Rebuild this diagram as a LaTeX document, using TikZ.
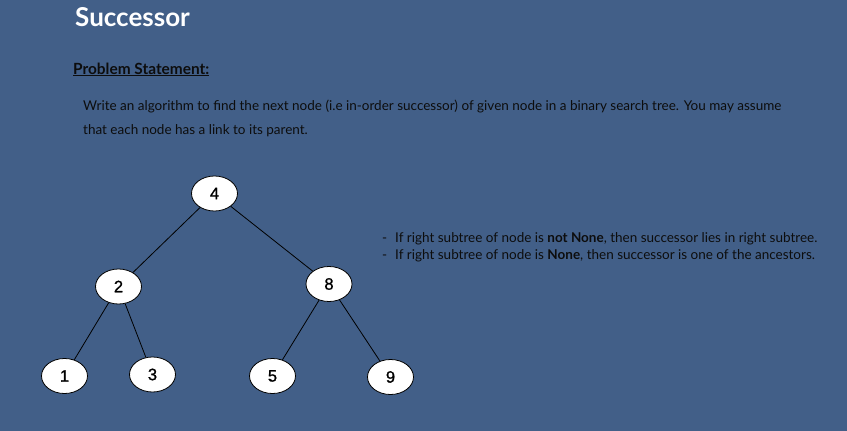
\documentclass[tikz,border=0pt]{standalone}
\usepackage{fontspec}
\setmainfont{Lato}
\newfontfamily\keyfont[FakeBold=1]{Liberation Sans}
\usepackage{tikz}
\usetikzlibrary{shapes.geometric,positioning}

\tikzset{
  key/.style={shape=ellipse,minimum width=46pt,minimum height=35pt,inner sep=0pt,
    line width=0.8pt,draw=cv,fill=cfv,text=clv,font={\keyfont\fontsize{16.5}{20}\selectfont}},
  link/.style={line width=0.8pt,color=cedge},
  txt/.style={anchor=base west,inner sep=0pt,text=ctext}
}

\begin{document}
\begin{tikzpicture}[x=1pt,y=-1pt]
%
\definecolor{cbg}{RGB}{66,95,136}
\definecolor{ctitle}{rgb}{1.0,1.0,1.0}
\definecolor{ctext}{rgb}{0.05,0.05,0.05}
\definecolor{cv}{rgb}{0.0,0.0,0.0}
\definecolor{cfv}{rgb}{1.0,1.0,1.0}
\definecolor{clv}{rgb}{0.0,0.0,0.0}
\definecolor{cedge}{rgb}{0.0,0.0,0.0}
%
\fill[cbg] (0,0) rectangle (847,431);
\useasboundingbox (0,0) rectangle (847,431);
%
\node[txt,text=ctitle,font=\fontsize{26}{30}\selectfont\bfseries] (title) at (75,27) {Successor};
\node[txt,font=\fontsize{15.4}{18}\selectfont\bfseries] (stmt) at (73,74) {\underline{Problem Statement:}};
\node[txt,font=\fontsize{13.5}{16}\selectfont] (line1) at (83,110) {Write an algorithm to find the next node (i.e in-order successor) of given node in a binary search tree. You may assume};
\node[txt,font=\fontsize{13.5}{16}\selectfont] (line2) at (83,134) {that each node has a link to its parent.};
%
\node[txt,font=\fontsize{13.5}{16}\selectfont] (dash1) at (382,242) {-};
\node[txt,font=\fontsize{13.5}{16}\selectfont] (case1) at (395,242) {If right subtree of node is \textbf{not None}, then successor lies in right subtree.};
\node[txt,font=\fontsize{13.5}{16}\selectfont] (dash2) at (382,259) {-};
\node[txt,font=\fontsize{13.5}{16}\selectfont] (case2) at (395,259) {If right subtree of node is \textbf{None}, then successor is one of the ancestors.};
%
\node[key] (v4) at (214.5,193.5) {4};
\node[key] (v2) at (118.5,286.5) {2};
\node[key] (v8) at (329,284) {8};
\node[key] (v1) at (64.5,376) {1};
\node[key] (v3) at (152.5,374.5) {3};
\node[key] (v5) at (272.5,376) {5};
\node[key] (v9) at (390.5,377) {9};
%
\draw[link] (v4) -- (v2);
\draw[link] (v4) -- (v8);
\draw[link] (v2) -- (v1);
\draw[link] (v2) -- (v3);
\draw[link] (v8) -- (v5);
\draw[link] (v8) -- (v9);
%
\end{tikzpicture}
\end{document}
